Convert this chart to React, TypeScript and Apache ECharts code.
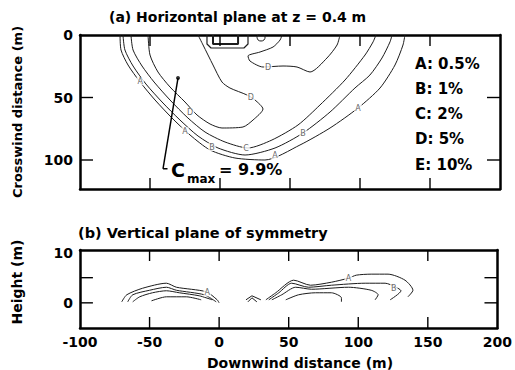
import React, { useEffect, useRef } from "react";
import * as echarts from "echarts";

// ---- axes ----
const xMin = -100;
const xMax = 200;
const xStep = 50;
const xTickValues = [-50, 0, 50, 100, 150];
const topYMax = 123.2;
const topYStep = 50;
const topYTickValues = [50, 100];
const bottomYMin = -5;
const bottomYMax = 10.5;
const bottomYStep = 5;
const bottomYLabels = [0, 10];
const bottomYTickValues = [0, 5];

// ---- (a) horizontal plane contours [downwind, crosswind] ----
const topContourA = [[-71.4,0],[-70.7,12],[-65.7,24],[-57.1,37.6],[-46.4,52],[-34.3,66.4],[-21.4,80],[-7.1,92],[10.7,98.4],[32.1,100],[57.1,88],[78.6,74.4],[98.6,58.4],[114.3,42.4],[125,24],[130.7,8],[132.1,0]];
const topContourB = [[-69.3,0],[-67.9,12],[-62.1,24.8],[-52.9,39.2],[-41.4,53.6],[-28.6,68],[-15.7,80.8],[-1.4,90.4],[17.9,96],[39.3,90.4],[59.3,78.4],[78.6,61.6],[96.4,42.4],[107.1,32],[115.7,18.4],[121.4,5.6],[122.9,0]];
const topContourC = [[-63.6,0],[-62.1,12],[-55.7,24.8],[-47.1,37.6],[-35.7,52],[-22.9,66.4],[-10.7,77.6],[3.6,85.6],[20,90.4],[37.1,84],[55.7,72],[71.4,56],[89.3,36],[103.6,16],[109.3,5.6],[111.4,0]];
const topContourD = [[-51.4,0],[-50,16],[-44.3,29.6],[-35.7,41.6],[-25,53.6],[-16.4,64],[-7.1,71.2],[1.4,74.4],[16.4,73.6],[23.6,68],[30.7,59.2],[25,52],[19.3,48],[7.1,42.4],[1.4,37.6],[-5,24],[-12.1,8],[-15.7,0]];
const topContourDSource = [[44.3,0],[42.9,4],[37.9,9.6],[28.6,13.6],[20,16.8],[21.4,20.8],[30.7,25.6],[45,24.8],[55,25.6],[64.3,29.6],[76.4,18.4],[83.6,8],[85.7,0]];
const topContourEOuter = [[-9.3,0],[-9.3,7.2],[-6.4,10.4],[17.1,10.4],[20,7.2],[20,0]];
const topContourEInner = [[-5,0],[-5,7.2],[12.9,7.2],[12.9,0]];
const topContourECircle = [[26.4,1.6],[27.2,4],[29.3,4.8],[31.4,4],[32.2,1.6],[31.4,0],[29.3,0],[27.2,0],[26.4,1.6]];
const topLabels = [[-57,37,"A"],[-21.4,61.6,"D"],[-25,77,"A"],[-5.7,89.6,"B"],[18.6,90.4,"C"],[59.3,78.4,"B"],[98.6,58.4,"A"],[34.3,25.6,"D"],[22.1,49.6,"D"],[39.3,96.5,"A"]];

// C max pointer [downwind, crosswind]
const cMaxTail = [-40.7, 107];
const cMaxFoot = [-37.5, 107];
const cMaxPoint = [-30, 34.4];

// ---- (b) vertical plane contours [downwind, height] ----
const sideLeftA = [[-70,0.2],[-66.4,1.6],[-55,2.9],[-37.9,3.9],[-30.7,3.1],[-9.3,2.2],[-1.4,0.6],[0,0]];
const sideLeftB = [[-65.7,0.2],[-62.1,1.6],[-50,2.5],[-37.9,3.1],[-30.7,2.5],[-10.7,1.6],[-2.1,0.2]];
const sideLeftC = [[-62.1,0.2],[-57.1,1.2],[-47.9,2.0],[-37.9,2.4],[-28.6,2.0],[-14.3,1.4],[-5,0.6]];
const sideLeftD = [[-48.6,0.4],[-37.9,1.2],[-23.6,1.2],[-12.9,0.6]];
const sideMidA = [[19.3,0.6],[23.6,1.4],[30,0.6]];
const sideMidB = [[20.7,0.2],[23.6,1.0],[27.1,0.2]];
const sideRightA = [[33.6,0.6],[40.7,2.0],[53.6,4.5],[65.7,3.5],[80.7,4.1],[92.9,4.9],[98.6,5.5],[109.3,5.7],[121.4,5.7],[133.6,4.5],[139.3,2.5],[135.7,1.2]];
const sideRightB = [[35.7,0.6],[42.9,2.0],[52.1,3.9],[64.3,3.1],[80.7,3.5],[105,3.9],[119.3,3.9],[127.1,3.1],[130.7,2.4],[122.9,0.6]];
const sideRightC = [[37.9,0.6],[45,1.6],[55,3.1],[66.4,2.7],[92.9,3.1],[109.3,2.5],[114.3,1.6],[112.1,0.6]];
const sideRightD = [[47.9,0.6],[57.1,1.6],[69.3,2.0],[80.7,2.0],[87.9,1.0],[87.9,0.2]];
const sideLabels = [[-8.5,2.1,"A"],[92.9,4.9,"A"],[125.5,2.9,"B"]];

const legendLines = ["A: 0.5%", "B: 1%", "C: 2%", "D: 5%", "E: 10%"];

const FONT = "'DejaVu Sans', sans-serif";
const INK = "#000";

// grid geometry (px) and tick lengths (px)
const GRID_W = 420;
const TOP_H = 154;
const BOT_H = 78;
const X_TICK_PX = 11;
const Y_TICK_PX = 13;

function contour(data: number[][], xi: number, yi: number, width = 1, smooth = 0.25) {
  return {
    type: "line",
    xAxisIndex: xi,
    yAxisIndex: yi,
    data,
    symbol: "none",
    showSymbol: false,
    smooth,
    silent: true,
    lineStyle: { color: "#1c1c1c", width },
    z: 3,
  };
}

function labelSeries(data: any[], xi: number, yi: number) {
  return {
    type: "scatter",
    xAxisIndex: xi,
    yAxisIndex: yi,
    data,
    symbolSize: 1,
    silent: true,
    itemStyle: { color: "transparent" },
    label: {
      show: true,
      position: "inside",
      formatter: (p: any) => p.value[2],
      fontSize: 8,
      fontFamily: FONT,
      color: "#444",
      backgroundColor: "#fff",
      padding: [0, 1],
    },
    z: 4,
  };
}

// one short 2-point line series per inward tick, built from the tick value arrays
function tickLines(
  xi: number, yi: number,
  yTopVal: number, yBotVal: number, yStepIntoFromTop: number,
  xStepInto: number,
  xTicks: number[], yTicks: number[],
) {
  const out: any[] = [];
  const mk = (data: number[][]) => ({
    type: "line",
    xAxisIndex: xi,
    yAxisIndex: yi,
    data,
    symbol: "none",
    showSymbol: false,
    smooth: false,
    silent: true,
    clip: false,
    lineStyle: { color: INK, width: 1.4 },
    z: 8,
  });
  xTicks.forEach((t) => {
    out.push(mk([[t, yTopVal], [t, yTopVal + yStepIntoFromTop]]));
    out.push(mk([[t, yBotVal], [t, yBotVal - yStepIntoFromTop]]));
  });
  yTicks.forEach((t) => {
    out.push(mk([[xMin, t], [xMin + xStepInto, t]]));
    out.push(mk([[xMax, t], [xMax - xStepInto, t]]));
  });
  return out;
}

const labelFont = { color: INK, fontSize: 14, fontWeight: "bold", fontFamily: FONT };
const lineStyleAxis = { color: INK, width: 2.5 };

function xAxisDef(gridIndex: number, position: string, labels: boolean) {
  return {
    type: "value",
    gridIndex,
    position,
    min: xMin,
    max: xMax,
    interval: xStep,
    axisLine: { show: true, onZero: false, lineStyle: lineStyleAxis },
    axisTick: { show: false },
    axisLabel: labels ? { show: true, margin: 7, ...labelFont } : { show: false },
    splitLine: { show: false },
  };
}

function yAxisDef(gridIndex: number, position: string, min: number, max: number, step: number, inverse: boolean, label: any) {
  return {
    type: "value",
    gridIndex,
    position,
    min,
    max,
    interval: step,
    inverse,
    axisLine: { show: true, onZero: false, lineStyle: lineStyleAxis },
    axisTick: { show: false },
    axisLabel: label,
    splitLine: { show: false },
  };
}

export default function App() {
  const ref = useRef<HTMLDivElement>(null);
  useEffect(() => {
    if (!ref.current) return;
    const chart = echarts.init(ref.current, null, { renderer: "svg" });
    const textStyle = (size: number) => ({ fill: INK, font: `bold ${size}px ${FONT}` });
    const xInto = (Y_TICK_PX * (xMax - xMin)) / GRID_W;
    // top panel: inverse axis, value 0 at the top edge, values grow downward
    const topInto = (X_TICK_PX * topYMax) / TOP_H;
    // bottom panel: normal axis, max at the top edge, going inside means decreasing
    const botInto = -(X_TICK_PX * (bottomYMax - bottomYMin)) / BOT_H;
    const option: any = {
      animation: false,
      backgroundColor: "#fff",
      grid: [
        { left: 80, top: 35, width: GRID_W, height: TOP_H },
        { left: 80, top: 250, width: GRID_W, height: BOT_H },
      ],
      xAxis: [
        xAxisDef(0, "bottom", false),
        xAxisDef(0, "top", false),
        xAxisDef(1, "bottom", true),
        xAxisDef(1, "top", false),
      ],
      yAxis: [
        yAxisDef(0, "left", 0, topYMax, topYStep, true, { show: true, margin: 7, showMaxLabel: false, ...labelFont }),
        yAxisDef(0, "right", 0, topYMax, topYStep, true, { show: false }),
        yAxisDef(1, "left", bottomYMin, bottomYMax, bottomYStep, false, {
          show: true, margin: 7, showMaxLabel: false, showMinLabel: false,
          formatter: (v: number) => (bottomYLabels.indexOf(v) >= 0 ? String(v) : ""),
          ...labelFont,
        }),
        yAxisDef(1, "right", bottomYMin, bottomYMax, bottomYStep, false, { show: false }),
      ],
      series: [
        ...tickLines(0, 0, 0, topYMax, topInto, xInto, xTickValues, topYTickValues),
        ...tickLines(2, 2, bottomYMax, bottomYMin, botInto, xInto, xTickValues, bottomYTickValues),
        contour(topContourA, 0, 0),
        contour(topContourB, 0, 0),
        contour(topContourC, 0, 0),
        contour(topContourD, 0, 0),
        contour(topContourDSource, 0, 0),
        contour(topContourEOuter, 0, 0, 1.2, 0),
        contour(topContourEInner, 0, 0, 2, 0),
        contour(topContourECircle, 0, 0, 1, 0.4),
        labelSeries(topLabels, 0, 0),
        {
          type: "line",
          xAxisIndex: 0,
          yAxisIndex: 0,
          data: [cMaxFoot, cMaxTail],
          symbol: "none",
          silent: true,
          lineStyle: { color: INK, width: 1.5 },
          markLine: {
            silent: true,
            symbol: ["none", "arrow"],
            symbolSize: [0, 10],
            label: { show: false },
            lineStyle: { color: INK, width: 1.5, type: "solid" },
            data: [[{ coord: cMaxTail }, { coord: cMaxPoint }]],
          },
          z: 5,
        },
        {
          type: "scatter",
          xAxisIndex: 0,
          yAxisIndex: 0,
          data: [cMaxPoint],
          symbolSize: 4,
          silent: true,
          itemStyle: { color: INK },
          z: 6,
        },
        contour(sideLeftA, 2, 2),
        contour(sideLeftB, 2, 2),
        contour(sideLeftC, 2, 2),
        contour(sideLeftD, 2, 2),
        contour(sideMidA, 2, 2, 1, 0),
        contour(sideMidB, 2, 2, 1, 0),
        contour(sideRightA, 2, 2),
        contour(sideRightB, 2, 2),
        contour(sideRightC, 2, 2),
        contour(sideRightD, 2, 2),
        labelSeries(sideLabels, 2, 2),
      ],
      graphic: [
        { type: "text", left: 109, top: 10, style: { text: "(a) Horizontal plane at z = 0.4 m", ...textStyle(14) } },
        { type: "text", left: 78, top: 225, style: { text: "(b) Vertical plane of symmetry", ...textStyle(14.5) } },
        ...legendLines.map((t, i) => ({
          type: "text",
          left: 415,
          top: 56 + i * 25.3,
          style: { text: t, ...textStyle(15) },
        })),
        { type: "text", left: 171, top: 160, style: { text: "C", ...textStyle(19) } },
        { type: "text", left: 187, top: 173, style: { text: "max", ...textStyle(12) } },
        { type: "text", left: 219, top: 161, style: { text: "= 9.9%", ...textStyle(16) } },
        {
          type: "text",
          x: 17,
          y: 112,
          rotation: Math.PI / 2,
          style: { text: "Crosswind distance (m)", textAlign: "center", textVerticalAlign: "middle", ...textStyle(13) },
        },
        {
          type: "text",
          x: 17,
          y: 282,
          rotation: Math.PI / 2,
          style: { text: "Height (m)", textAlign: "center", textVerticalAlign: "middle", ...textStyle(14) },
        },
        {
          type: "text",
          x: 300,
          y: 363,
          style: { text: "Downwind distance (m)", textAlign: "center", textVerticalAlign: "middle", ...textStyle(14) },
        },
      ],
    };
    chart.setOption(option);
    return () => chart.dispose();
  }, []);
  return (
    <div
      ref={ref}
      style={{ position: "fixed", left: 0, top: 0, width: 515, height: 370, background: "#fff" }}
    />
  );
}
